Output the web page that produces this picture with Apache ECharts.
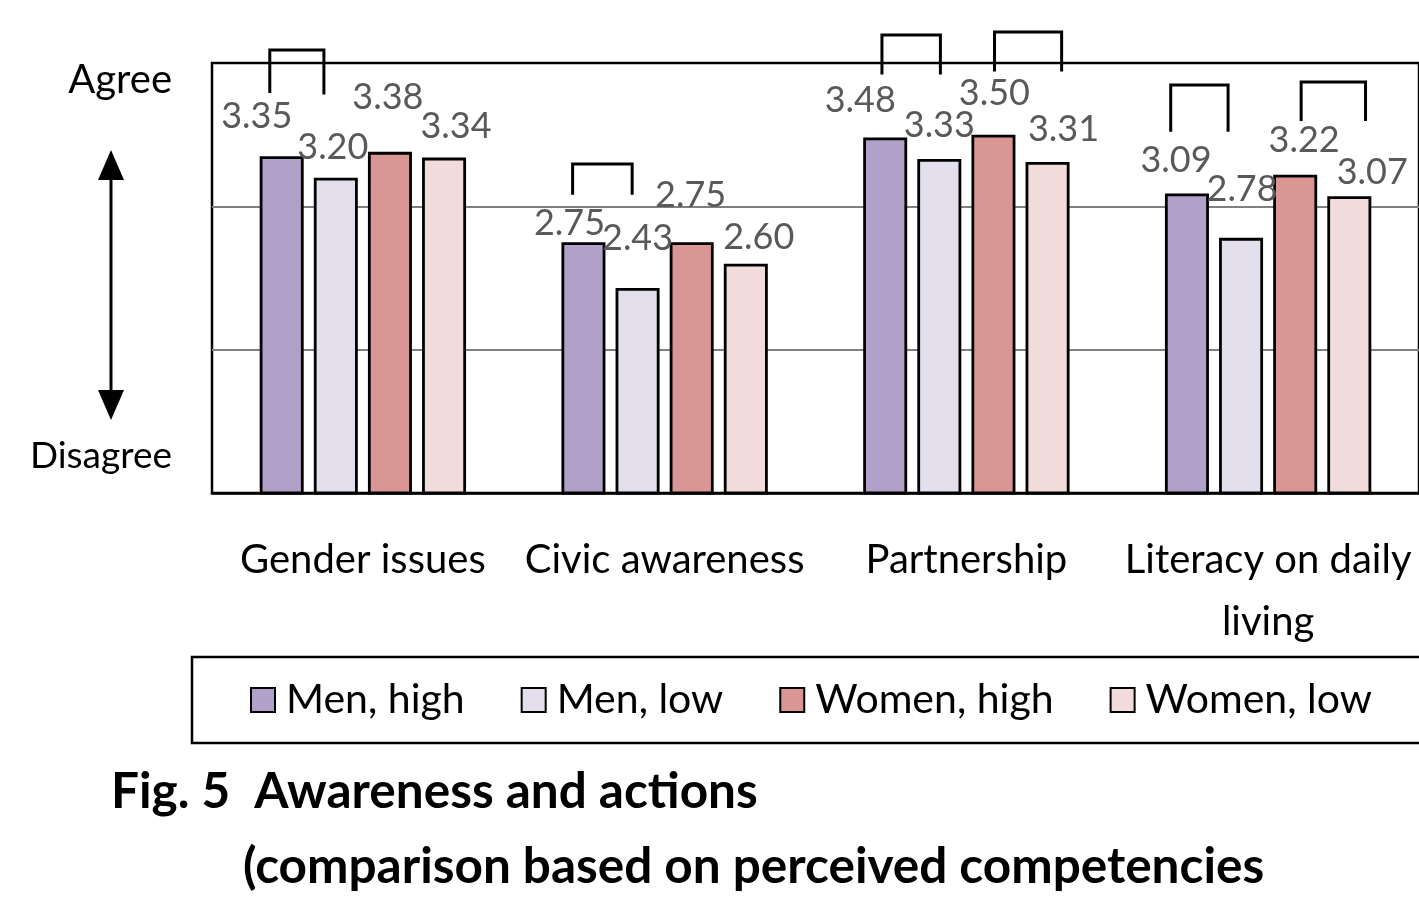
<!DOCTYPE html>
<html>
<head>
<meta charset="utf-8">
<script src="https://cdn.jsdelivr.net/npm/echarts@6/dist/echarts.min.js"></script>
<style>
  html, body { margin: 0; padding: 0; background: #fff; }
  #chart { width: 1419px; height: 906px; }
</style>
</head>
<body>
<div id="chart"></div>
<script>
// categories and values
const categories = ['Gender issues', 'Civic awareness', 'Partnership', 'Literacy on daily living'];
const seriesNames = ['Men, high', 'Men, low', 'Women, high', 'Women, low'];
const menHigh = [3.35, 2.75, 3.48, 3.09];
const menLow = [3.20, 2.43, 3.33, 2.78];
const womenHigh = [3.38, 2.75, 3.50, 3.22];
const womenLow = [3.34, 2.60, 3.31, 3.07];
const values = [menHigh, menLow, womenHigh, womenLow];

// significance brackets: [category, from bar slot, to bar slot, top, left leg end, right leg end]
const brackets = [
    [0, -0.22, 0.78, 4.09, 3.79, 3.78],
    [1, -0.2, 0.9, 3.295, 3.08, 3.08],
    [2, -0.06, 1.02, 4.195, 3.92, 3.92],
    [2, 2.02, 3.26, 4.216, 3.94, 3.94],
    [3, -0.3, 0.76, 3.846, 3.52, 3.52],
    [3, 2.11, 3.3, 3.867, 3.595, 3.595]
];

const colors = ['#b1a0c7', '#e4dfec', '#da9694', '#f2dcdb'];
// label nudges (dx, height of label centre above bar top), like the hand-placed Excel labels
const labelShift = [
    [[-25, 40], [-14, 19], [-25, 37], [-11, 33]],
    [[-3, 30], [0, 50], [0, 34], [1, 48]],
    [[-2, 54], [-1, 47], [1, 41], [9, 34]],
    [[12, 31], [13, 26], [16, 33], [23, 24]]
];

const FONT = "Lato, 'Liberation Sans', sans-serif";
const BAR_W = 44;
const BAR_GAP = 0.23;

var chart = echarts.init(document.getElementById('chart'));

const barSeries = seriesNames.map(function(name, s) {
    return {
        name: name,
        type: 'bar',
        barWidth: BAR_W,
        barGap: (BAR_GAP * 100) + '%',
        itemStyle: {
            color: colors[s],
            borderColor: '#000',
            borderWidth: 2.8
        },
        data: values[s].map(function(v, i) {
            return {
                value: v,
                label: {
                    offset: [labelShift[s][i][0], -labelShift[s][i][1]]
                }
            };
        }),
        label: {
            show: true,
            position: ['50%', 0],
            align: 'center',
            verticalAlign: 'middle',
            fontFamily: FONT,
            fontSize: 36,
            color: '#595959',
            formatter: function(p) {
                return p.value.toFixed(2);
            }
        },
        z: 3
    };
});

const bracketSeries = {
    type: 'custom',
    silent: true,
    z: 4,
    data: brackets,
    encode: { x: 0, y: 3 },
    renderItem: function(params, api) {
        const cx = api.coord([api.value(0), 1])[0];
        const slot = BAR_W * (1 + BAR_GAP);
        const x1 = cx + (api.value(1) - 1.5) * slot;
        const x2 = cx + (api.value(2) - 1.5) * slot;
        const yTop = api.coord([api.value(0), api.value(3)])[1];
        const yL = api.coord([api.value(0), api.value(4)])[1];
        const yR = api.coord([api.value(0), api.value(5)])[1];
        return {
            type: 'polyline',
            shape: { points: [[x1, yL], [x1, yTop], [x2, yTop], [x2, yR]] },
            style: { stroke: '#000', lineWidth: 3, fill: null }
        };
    }
};

option = {
    backgroundColor: '#fff',
    animation: false,
    title: [{
        text: 'Fig. 5  Awareness and actions',
        left: 111,
        top: 767,
        padding: 0,
        textStyle: { fontFamily: FONT, fontSize: 49.5, fontWeight: 'bold', color: '#000' }
    }, {
        text: '(comparison based on perceived competencies',
        left: 243,
        top: 842,
        padding: 0,
        textStyle: { fontFamily: FONT, fontSize: 49.5, fontWeight: 'bold', color: '#000' }
    }],
    legend: {
        data: seriesNames,
        left: 192,
        top: 657,
        width: 1400,
        orient: 'horizontal',
        icon: 'rect',
        itemWidth: 24,
        itemHeight: 24,
        itemGap: 56,
        padding: [18, 100, 18, 58],
        borderColor: '#000',
        borderWidth: 2.5,
        textStyle: {
            fontFamily: FONT,
            fontSize: 41,
            lineHeight: 50,
            color: '#000',
            padding: [0, 0, 0, 6]
        }
    },
    grid: {
        left: 212,
        right: -3,
        top: 63,
        bottom: 413,
        show: true,
        borderColor: '#000',
        borderWidth: 2.5
    },
    xAxis: {
        type: 'category',
        data: categories,
        axisLine: { show: true, lineStyle: { color: '#000', width: 2.5 } },
        axisTick: { show: false },
        axisLabel: {
            margin: 36,
            fontFamily: FONT,
            fontSize: 40,
            lineHeight: 62,
            color: '#000',
            interval: 0,
            formatter: function(v) {
                return v.replace(' living', '\nliving');
            }
        }
    },
    yAxis: {
        type: 'value',
        min: 1,
        max: 4,
        interval: 1,
        axisLine: { show: false },
        axisTick: { show: false },
        axisLabel: { show: false },
        splitLine: {
            showMinLine: false,
            showMaxLine: false,
            lineStyle: { color: '#808080', width: 2 }
        }
    },
    graphic: [{
        type: 'text',
        style: {
            x: 172, y: 80,
            text: 'Agree',
            align: 'right',
            verticalAlign: 'middle',
            fontFamily: FONT,
            fontSize: 40,
            fill: '#000'
        }
    }, {
        type: 'text',
        style: {
            x: 172, y: 456,
            text: 'Disagree',
            align: 'right',
            verticalAlign: 'middle',
            fontFamily: FONT,
            fontSize: 37,
            fill: '#000'
        }
    }, {
        type: 'line',
        shape: { x1: 111, y1: 170, x2: 111, y2: 400 },
        style: { stroke: '#000', lineWidth: 3 }
    }, {
        type: 'polygon',
        shape: { points: [[111, 150], [98, 180], [124, 180]] },
        style: { fill: '#000' }
    }, {
        type: 'polygon',
        shape: { points: [[111, 420], [98, 390], [124, 390]] },
        style: { fill: '#000' }
    }],
    series: barSeries.concat([bracketSeries])
};
chart.setOption(option);
</script>
</body>
</html>
